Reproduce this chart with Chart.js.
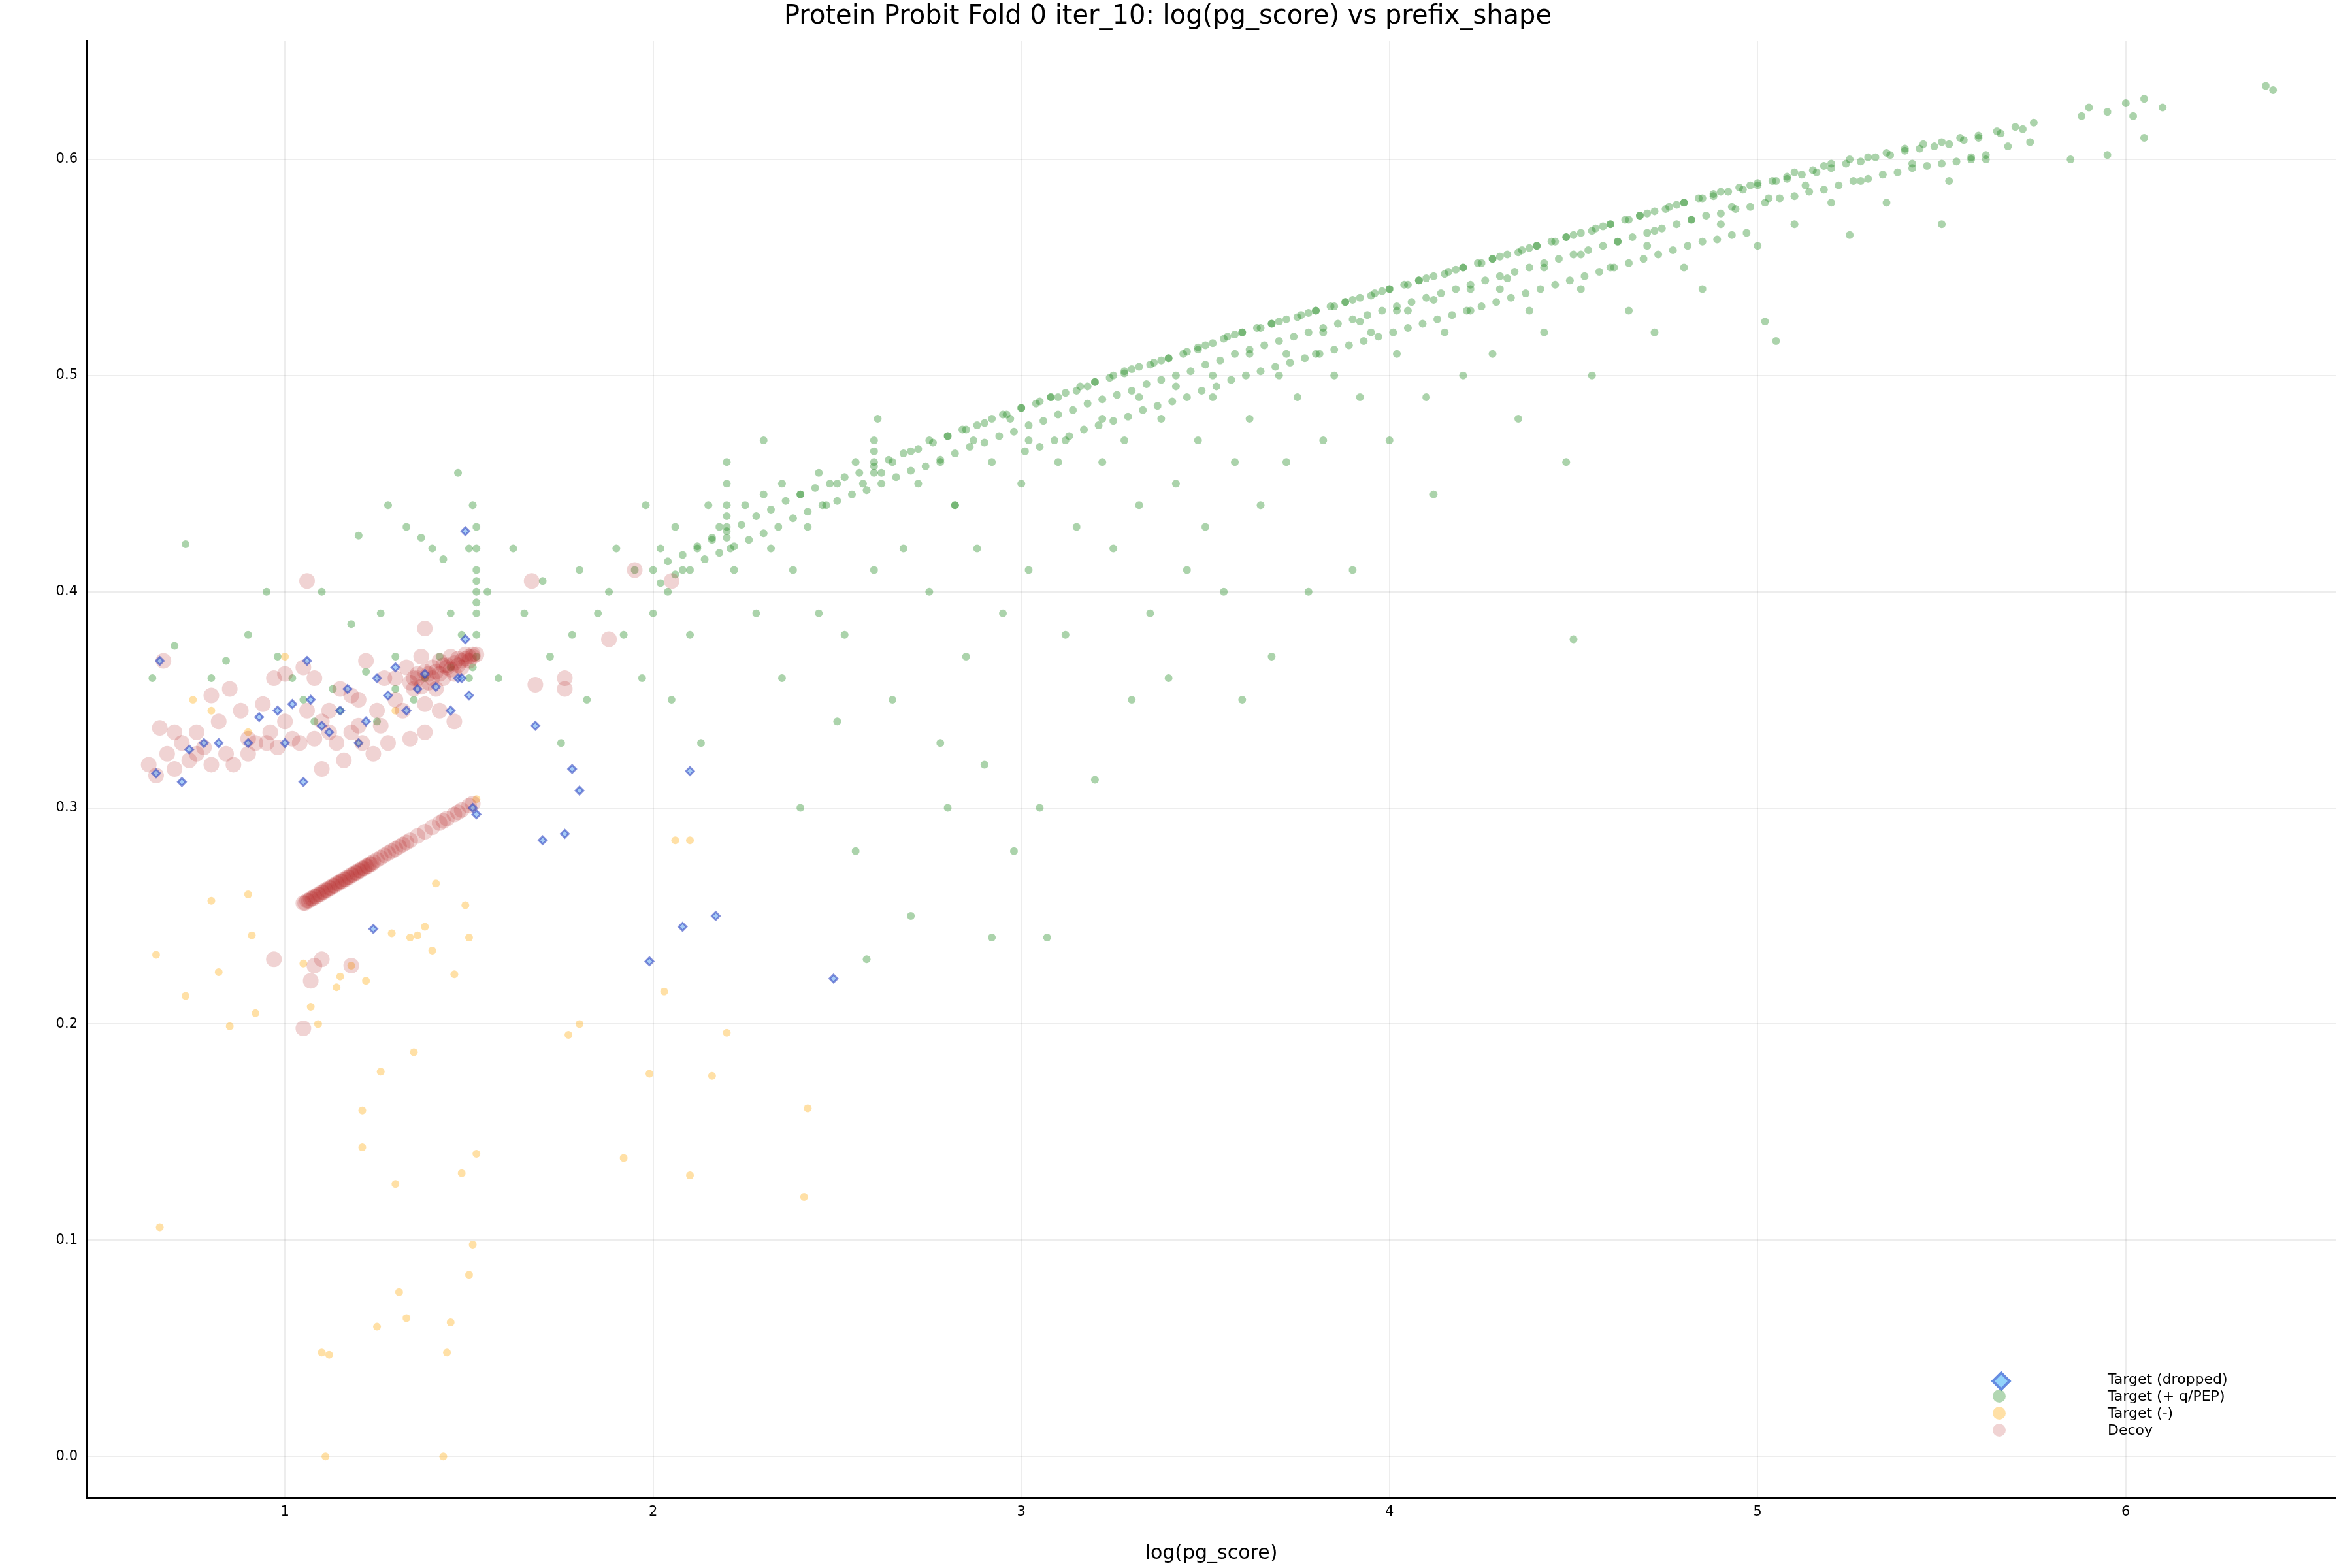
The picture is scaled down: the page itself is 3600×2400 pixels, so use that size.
<!DOCTYPE html>
<html><head><meta charset="utf-8">
<script src="https://cdn.jsdelivr.net/npm/chart.js@4.4.1/dist/chart.umd.min.js"></script>
<style>
html,body{margin:0;padding:0;background:#fff;}
#wrap{position:relative;width:3600px;height:2400px;}
#legend{position:absolute;left:3050px;top:2098px;font-family:"DejaVu Sans",sans-serif;font-size:22px;color:#000;}
.row{position:relative;height:26px;line-height:26px;}
.row span.m{position:absolute;left:0;top:3px;width:20px;height:20px;border-radius:50%;}
.row span.t{position:absolute;left:176px;top:0;white-space:nowrap;}
</style></head><body>
<div id="wrap"><canvas id="c" width="3600" height="2400"></canvas>
<div id="legend">
<div class="row"><span class="m" style="left:2px;top:5px;width:14px;height:14px;border-radius:0;transform:rotate(45deg);background:rgba(135,206,250,0.9);border:4px solid rgba(65,80,205,0.55);"></span><span class="t">Target (dropped)</span></div>
<div class="row"><span class="m" style="background:rgba(34,139,34,0.35)"></span><span class="t">Target (+ q/PEP)</span></div>
<div class="row"><span class="m" style="background:rgba(255,165,0,0.35)"></span><span class="t">Target (-)</span></div>
<div class="row"><span class="m" style="background:rgba(178,34,34,0.2)"></span><span class="t">Decoy</span></div>
</div></div>
<script>
const xTicks=[1,2,3,4,5,6];
const yTicks=[0,0.1,0.2,0.3,0.4,0.5,0.6];
const seriesNames=["Target (dropped)","Target (+ q/PEP)","Target (-)","Decoy"];

const droppedPts=[[0.65,0.316],[0.66,0.368],[0.72,0.312],[0.74,0.327],[0.78,0.33],[0.82,0.33],[0.9,0.33],[0.93,0.342],[0.98,0.345],[1.0,0.33],[1.02,0.348],[1.05,0.312],[1.06,0.368],[1.07,0.35],[1.1,0.338],[1.12,0.335],[1.15,0.345],[1.17,0.355],[1.2,0.33],[1.22,0.34],[1.24,0.244],[1.25,0.36],[1.28,0.352],[1.3,0.365],[1.33,0.345],[1.36,0.355],[1.38,0.362],[1.41,0.356],[1.45,0.345],[1.47,0.36],[1.48,0.36],[1.49,0.428],[1.49,0.378],[1.5,0.352],[1.51,0.3],[1.52,0.297],[1.68,0.338],[1.7,0.285],[1.76,0.288],[1.78,0.318],[1.8,0.308],[1.99,0.229],[2.08,0.245],[2.1,0.317],[2.17,0.25],[2.49,0.221]];

const greenPts=[
[0.64,0.36],[0.7,0.375],[0.73,0.422],[0.8,0.36],[0.84,0.368],[0.9,0.38],[0.95,0.4],[0.98,0.37],[1.02,0.36],[1.05,0.35],[1.1,0.4],[1.13,0.355],[1.18,0.385],[1.2,0.426],[1.22,0.363],[1.26,0.39],[1.28,0.44],[1.3,0.37],[1.33,0.43],[1.37,0.425],[1.4,0.42],[1.43,0.415],[1.45,0.39],[1.47,0.455],[1.48,0.38],[1.5,0.42],[1.51,0.44],[1.52,0.43],[1.52,0.42],[1.52,0.41],[1.52,0.405],[1.52,0.4],[1.52,0.395],[1.52,0.39],[1.52,0.38],[1.52,0.37],[1.51,0.365],[1.5,0.36],[1.45,0.365],[1.42,0.37],[1.38,0.36],[1.35,0.35],[1.3,0.355],[1.25,0.34],[1.15,0.345],[1.08,0.34],[1.55,0.4],[1.58,0.36],[1.62,0.42],[1.65,0.39],[1.7,0.405],[1.72,0.37],[1.75,0.33],[1.78,0.38],[1.8,0.41],[1.82,0.35],[1.85,0.39],[1.88,0.4],[1.9,0.42],[1.92,0.38],[1.95,0.41],[1.97,0.36],[1.98,0.44],[2.0,0.39],[2.02,0.42],[2.04,0.4],[2.05,0.35],[2.06,0.43],[2.08,0.41],[2.1,0.38],[2.12,0.42],[2.13,0.33],[2.15,0.44],[2.16,0.425],[2.18,0.43],[2.2,0.425],[2.2,0.43],[2.2,0.435],[2.2,0.44],[2.2,0.45],[2.2,0.46],[2.21,0.42],[2.22,0.41],[2.25,0.44],[2.28,0.39],[2.3,0.445],[2.32,0.42],[2.35,0.45],[2.38,0.41],[2.4,0.445],[2.42,0.43],[2.45,0.455],[2.47,0.44],[2.5,0.45],[2.52,0.38],[2.55,0.46],[2.57,0.45],[2.6,0.455],[2.6,0.46],[2.6,0.465],[2.6,0.47],[2.61,0.48],[2.62,0.455],[2.65,0.46],[2.68,0.42],[2.7,0.465],[2.72,0.45],[2.75,0.47],[2.78,0.46],[2.8,0.472],[2.82,0.44],[2.85,0.475],[2.87,0.47],[2.9,0.478],[2.92,0.46],[2.95,0.482],[2.97,0.48],[3.0,0.485],[3.02,0.47],[3.05,0.488],[3.08,0.49],[3.1,0.49],[3.12,0.47],[3.15,0.493],[3.18,0.495],[3.2,0.497],[3.22,0.48],[3.25,0.5],[3.28,0.502],[3.3,0.503],[3.32,0.49],[3.35,0.505],[3.38,0.507],[3.4,0.508],[3.42,0.495],[3.45,0.511],[3.48,0.512],[3.5,0.514],[3.52,0.5],[3.55,0.517],[3.58,0.519],[3.6,0.52],[3.62,0.51],[3.65,0.522],[3.68,0.524],[3.7,0.525],[3.72,0.51],[3.75,0.527],[3.78,0.529],[3.8,0.53],[3.82,0.52],[3.85,0.532],[3.88,0.534],[3.9,0.535],[3.92,0.525],[3.95,0.537],[3.98,0.539],[4.0,0.54],[4.02,0.53],[4.05,0.542],[4.08,0.544],[4.1,0.545],[4.12,0.535],[4.15,0.547],[4.18,0.549],[4.2,0.55],[4.22,0.54],[4.25,0.552],[4.28,0.554],[4.3,0.555],[4.32,0.545],[4.35,0.557],[4.38,0.559],[4.4,0.56],[4.42,0.55],[4.45,0.562],[4.48,0.564],[4.5,0.565],[4.52,0.556],[4.55,0.567],[4.58,0.569],[4.6,0.57],[4.62,0.562],[4.65,0.572],[4.68,0.574],[4.7,0.575],[4.72,0.567],[4.75,0.577],[4.78,0.579],[4.8,0.58],[4.82,0.572],[4.85,0.582],[4.88,0.584],[4.9,0.585],[4.93,0.578],[4.95,0.587],[4.98,0.588],[5.0,0.589],[5.03,0.582],[5.05,0.59],[5.08,0.592],[5.1,0.594],[5.13,0.588],[5.15,0.595],[5.18,0.597],[5.2,0.598],[5.25,0.6],[5.28,0.59],[5.3,0.601],[5.35,0.603],[5.4,0.605],[5.42,0.598],[5.45,0.607],[5.5,0.608],[5.55,0.61],[5.58,0.6],[5.6,0.611],[5.65,0.613],[5.7,0.615],[5.75,0.617],[5.88,0.62],[5.9,0.624],[5.95,0.622],[6.0,0.626],[6.02,0.62],[6.05,0.628],[6.1,0.624],[6.38,0.634],[6.4,0.632],
[2.3,0.47],[2.35,0.36],[2.4,0.3],[2.45,0.39],[2.5,0.34],[2.55,0.28],[2.58,0.23],[2.6,0.41],[2.65,0.35],[2.7,0.25],[2.75,0.4],[2.78,0.33],[2.8,0.3],[2.82,0.44],[2.85,0.37],[2.88,0.42],[2.9,0.32],[2.92,0.24],[2.95,0.39],[2.98,0.28],[3.0,0.45],[3.02,0.41],[3.05,0.3],[3.07,0.24],[3.1,0.46],[3.12,0.38],[3.15,0.43],[3.2,0.313],[3.22,0.46],[3.25,0.42],[3.28,0.47],[3.3,0.35],[3.32,0.44],[3.35,0.39],[3.38,0.48],[3.4,0.36],[3.42,0.45],[3.45,0.41],[3.48,0.47],[3.5,0.43],[3.52,0.49],[3.55,0.4],[3.58,0.46],[3.6,0.35],[3.62,0.48],[3.65,0.44],[3.68,0.37],[3.7,0.5],[3.72,0.46],[3.75,0.49],[3.78,0.4],[3.8,0.51],[3.82,0.47],[3.85,0.5],[3.9,0.41],[3.92,0.49],[3.95,0.52],[4.0,0.47],[4.02,0.51],[4.05,0.53],[4.1,0.49],[4.12,0.445],[4.15,0.52],[4.2,0.5],[4.22,0.53],[4.28,0.51],[4.3,0.54],[4.35,0.48],[4.38,0.53],[4.42,0.52],[4.48,0.46],[4.5,0.378],[4.52,0.54],[4.55,0.5],[4.6,0.55],[4.65,0.53],[4.7,0.56],[4.72,0.52],[4.8,0.55],[4.85,0.54],[4.9,0.57],[5.0,0.56],[5.02,0.525],[5.05,0.516],[5.1,0.57],[5.2,0.58],[5.25,0.565],[5.35,0.58],[5.5,0.57],[5.52,0.59],[5.62,0.6],[5.85,0.6],[5.95,0.602],[6.05,0.61]
];

const greenBandPts=[
[2.00,0.410],[2.02,0.404],[2.04,0.414],[2.06,0.408],[2.08,0.417],[2.10,0.410],[2.12,0.421],[2.14,0.415],[2.16,0.424],[2.18,0.418],[2.20,0.428],[2.22,0.421],[2.24,0.431],[2.26,0.424],[2.28,0.435],[2.30,0.427],[2.32,0.438],[2.34,0.430],[2.36,0.442],[2.38,0.434],[2.40,0.445],[2.42,0.437],[2.44,0.448],[2.46,0.440],[2.48,0.450],[2.50,0.442],[2.52,0.453],[2.54,0.445],[2.56,0.455],[2.58,0.447],[2.60,0.458],[2.62,0.450],[2.64,0.461],[2.66,0.453],[2.68,0.464],[2.70,0.456],[2.72,0.466],[2.74,0.458],[2.76,0.469],[2.78,0.461],[2.80,0.472],[2.82,0.464],[2.84,0.475],[2.86,0.467],[2.88,0.477],[2.90,0.469],[2.92,0.480],[2.94,0.472],[2.96,0.482],[2.98,0.474],
[3.00,0.485],[3.02,0.477],[3.01,0.465],[3.04,0.487],[3.06,0.479],[3.05,0.467],[3.08,0.490],[3.10,0.482],[3.09,0.470],[3.12,0.492],[3.14,0.484],[3.13,0.472],[3.16,0.495],[3.18,0.487],[3.17,0.475],[3.20,0.497],[3.22,0.489],[3.21,0.477],[3.24,0.499],[3.26,0.491],[3.25,0.479],[3.28,0.501],[3.30,0.493],[3.29,0.481],[3.32,0.504],[3.34,0.496],[3.33,0.484],[3.36,0.506],[3.38,0.498],[3.37,0.486],[3.40,0.508],[3.42,0.500],[3.41,0.488],[3.44,0.510],[3.46,0.502],[3.45,0.490],[3.48,0.513],[3.50,0.505],[3.49,0.493],[3.52,0.515],[3.54,0.507],[3.53,0.495],[3.56,0.518],[3.58,0.510],[3.57,0.498],[3.60,0.520],[3.62,0.512],[3.61,0.500],[3.64,0.522],[3.66,0.514],[3.65,0.502],[3.68,0.524],[3.70,0.516],[3.69,0.504],[3.72,0.526],[3.74,0.518],[3.73,0.506],[3.76,0.528],[3.78,0.520],[3.77,0.508],[3.80,0.530],[3.82,0.522],[3.81,0.510],[3.84,0.532],[3.86,0.524],[3.85,0.512],[3.88,0.534],[3.90,0.526],[3.89,0.514],[3.92,0.536],[3.94,0.528],[3.93,0.516],[3.96,0.538],[3.98,0.530],[3.97,0.518],
[4.00,0.540],[4.02,0.532],[4.01,0.520],[4.04,0.542],[4.06,0.534],[4.05,0.522],[4.08,0.544],[4.10,0.536],[4.09,0.524],[4.12,0.546],[4.14,0.538],[4.13,0.526],[4.16,0.548],[4.18,0.540],[4.17,0.528],[4.20,0.550],[4.22,0.542],[4.21,0.530],[4.24,0.552],[4.26,0.544],[4.25,0.532],[4.28,0.554],[4.30,0.546],[4.29,0.534],[4.32,0.556],[4.34,0.548],[4.33,0.536],[4.36,0.558],[4.38,0.550],[4.37,0.538],[4.40,0.560],[4.42,0.552],[4.41,0.540],[4.44,0.562],[4.46,0.554],[4.45,0.542],[4.48,0.564],[4.50,0.556],[4.49,0.544],[4.52,0.566],[4.54,0.558],[4.53,0.546],[4.56,0.568],[4.58,0.560],[4.57,0.548],[4.60,0.570],[4.62,0.562],[4.61,0.550],[4.64,0.572],[4.66,0.564],[4.65,0.552],[4.68,0.574],[4.70,0.566],[4.69,0.554],[4.72,0.576],[4.74,0.568],[4.73,0.556],[4.76,0.578],[4.78,0.570],[4.77,0.558],[4.80,0.580],[4.82,0.572],[4.81,0.560],[4.84,0.582],[4.86,0.574],[4.85,0.562],[4.88,0.583],[4.90,0.575],[4.89,0.563],[4.92,0.585],[4.94,0.577],[4.93,0.565],[4.96,0.586],[4.98,0.578],[4.97,0.566],
[5.00,0.588],[5.02,0.580],[5.04,0.590],[5.06,0.582],[5.08,0.591],[5.10,0.583],[5.12,0.593],[5.14,0.585],[5.16,0.594],[5.18,0.586],[5.20,0.596],[5.22,0.588],[5.24,0.598],[5.26,0.590],[5.28,0.599],[5.30,0.591],[5.32,0.601],[5.34,0.593],[5.36,0.602],[5.38,0.594],[5.40,0.604],[5.42,0.596],[5.44,0.605],[5.46,0.597],[5.48,0.606],[5.50,0.598],[5.52,0.607],[5.54,0.599],[5.56,0.609],[5.58,0.601],[5.60,0.610],[5.62,0.602],[5.66,0.612],[5.68,0.606],[5.72,0.614],[5.74,0.608]
];

const orangePts=[[0.65,0.232],[0.66,0.106],[0.73,0.213],[0.75,0.35],[0.8,0.257],[0.8,0.345],[0.82,0.224],[0.85,0.199],[0.9,0.26],[0.9,0.335],[0.91,0.241],[0.92,0.205],[1.0,0.37],[1.05,0.228],[1.07,0.208],[1.09,0.2],[1.1,0.048],[1.11,0.0],[1.12,0.047],[1.14,0.217],[1.15,0.222],[1.18,0.227],[1.2,0.33],[1.21,0.16],[1.21,0.143],[1.22,0.22],[1.25,0.06],[1.26,0.178],[1.29,0.242],[1.3,0.126],[1.3,0.345],[1.31,0.076],[1.33,0.064],[1.34,0.24],[1.35,0.187],[1.36,0.241],[1.38,0.245],[1.4,0.234],[1.41,0.265],[1.43,0.0],[1.44,0.048],[1.45,0.062],[1.46,0.223],[1.48,0.131],[1.49,0.255],[1.5,0.24],[1.51,0.098],[1.5,0.084],[1.52,0.14],[1.52,0.304],[1.77,0.195],[1.8,0.2],[1.92,0.138],[1.99,0.177],[2.03,0.215],[2.06,0.285],[2.1,0.285],[2.1,0.13],[2.16,0.176],[2.2,0.196],[2.41,0.12],[2.42,0.161]];

const decoyPts=[
[1.05,0.256],[1.055,0.256],[1.06,0.257],[1.065,0.257],[1.07,0.258],[1.075,0.258],[1.08,0.259],[1.085,0.259],[1.09,0.26],[1.095,0.26],[1.1,0.261],[1.105,0.261],[1.11,0.262],[1.115,0.262],[1.12,0.263],[1.125,0.263],[1.13,0.264],[1.135,0.264],[1.14,0.265],[1.145,0.265],[1.15,0.266],[1.155,0.266],[1.16,0.267],[1.165,0.267],[1.17,0.268],[1.175,0.268],[1.18,0.269],[1.185,0.269],[1.19,0.27],[1.195,0.27],[1.2,0.271],[1.205,0.271],[1.21,0.272],[1.215,0.272],[1.22,0.273],[1.225,0.273],[1.23,0.274],[1.235,0.274],[1.24,0.275],[1.25,0.276],[1.26,0.277],[1.27,0.278],[1.28,0.279],[1.29,0.28],[1.3,0.281],[1.31,0.282],[1.32,0.283],[1.33,0.284],[1.34,0.285],[1.36,0.287],[1.38,0.289],[1.4,0.291],[1.42,0.293],[1.43,0.294],[1.44,0.295],[1.46,0.297],[1.47,0.298],[1.48,0.299],[1.5,0.301],[1.51,0.302],
[0.63,0.32],[0.65,0.315],[0.66,0.337],[0.68,0.325],[0.7,0.318],[0.72,0.33],[0.74,0.322],[0.76,0.335],[0.78,0.328],[0.8,0.32],[0.8,0.352],[0.82,0.34],[0.84,0.325],[0.86,0.32],[0.88,0.345],[0.9,0.332],[0.92,0.33],[0.94,0.348],[0.96,0.335],[0.98,0.328],[1.0,0.362],[1.0,0.34],[1.02,0.332],[1.04,0.33],[1.06,0.345],[1.08,0.332],[1.08,0.36],[1.1,0.318],[1.1,0.34],[1.12,0.335],[1.14,0.33],[1.15,0.355],[1.16,0.322],[1.18,0.335],[1.2,0.35],[1.21,0.33],[1.22,0.368],[1.24,0.325],[1.25,0.345],[1.26,0.338],[1.27,0.36],[1.28,0.33],[1.3,0.35],[1.3,0.36],[1.32,0.345],[1.33,0.365],[1.34,0.332],[1.35,0.355],[1.36,0.36],[1.37,0.37],[1.38,0.348],[1.39,0.362],[1.4,0.365],[1.41,0.355],[1.42,0.368],[1.43,0.36],[1.44,0.365],[1.45,0.37],[1.46,0.362],[1.47,0.366],[1.48,0.368],[1.49,0.369],[1.5,0.37],[1.51,0.371],[1.52,0.371],[1.46,0.34],[1.42,0.345],[1.38,0.335],[1.05,0.365],[0.97,0.36],[0.85,0.355],[0.67,0.368],
[1.34,0.358],[1.36,0.362],[1.38,0.363],[1.4,0.36],[1.42,0.362],[1.44,0.366],[1.46,0.367],[1.48,0.365],[1.5,0.368],[1.51,0.37],[1.49,0.371],[1.47,0.369],[1.45,0.364],[1.43,0.366],[1.41,0.363],[1.39,0.358],[1.37,0.356],[1.35,0.36],[1.2,0.338],[1.18,0.352],[1.12,0.345],[0.95,0.33],[0.9,0.325],[0.76,0.325],[0.7,0.335],
[1.06,0.405],[0.97,0.23],[1.05,0.198],[1.07,0.22],[1.08,0.227],[1.1,0.23],[1.18,0.227],[1.67,0.405],[1.68,0.357],[1.76,0.36],[1.76,0.355],[1.88,0.378],[1.95,0.41],[2.05,0.405],[1.38,0.383]];

const toXY=a=>a.map(p=>({x:p[0],y:p[1]}));
const fontFam='"DejaVu Sans", sans-serif';
const greenStyle={pointRadius:6,pointBorderWidth:0,backgroundColor:'rgba(34,139,34,0.38)',borderColor:'rgba(0,0,0,0)',order:3};
new Chart(document.getElementById('c'),{
  type:'scatter',
  data:{datasets:[
    {label:seriesNames[0],data:toXY(droppedPts),pointStyle:'rectRot',pointRadius:6,pointBorderWidth:3,
     backgroundColor:'rgba(110,170,240,0.6)',borderColor:'rgba(40,60,190,0.55)',order:0},
    Object.assign({label:seriesNames[1],data:toXY(greenPts)},greenStyle),
    Object.assign({label:seriesNames[1]+' band',data:toXY(greenBandPts)},greenStyle),
    {label:seriesNames[2],data:toXY(orangePts),pointRadius:6,pointBorderWidth:0,backgroundColor:'rgba(255,165,0,0.35)',borderColor:'rgba(0,0,0,0)',order:2},
    {label:seriesNames[3],data:toXY(decoyPts),pointRadius:12,pointBorderWidth:0,backgroundColor:'rgba(178,34,34,0.2)',borderColor:'rgba(0,0,0,0)',order:1}
  ]},
  options:{
    responsive:false,animation:false,devicePixelRatio:1,
    layout:{padding:{left:0,right:25,top:0,bottom:0}},
    plugins:{
      legend:{display:false},tooltip:{enabled:false},
      title:{display:true,text:'Protein Probit Fold 0 iter_10: log(pg_score) vs prefix_shape',
        font:{family:fontFam,size:40,weight:'normal'},color:'#000',padding:{top:2,bottom:12}}
    },
    scales:{
      x:{type:'linear',min:0.462,max:6.57,
        afterBuildTicks:s=>{s.ticks=xTicks.map(v=>({value:v}));},
        ticks:{font:{family:fontFam,size:21},color:'#000',padding:10},
        grid:{color:'rgba(0,0,0,0.07)',lineWidth:2,drawTicks:false},
        border:{color:'#000',width:3},
        title:{display:true,text:'log(pg_score)',font:{family:fontFam,size:30},color:'#000',padding:{top:22}},
        afterFit:s=>{s.height=108;}
      },
      y:{type:'linear',min:-0.019,max:0.655,
        afterBuildTicks:s=>{s.ticks=yTicks.map(v=>({value:v}));},
        ticks:{font:{family:fontFam,size:21},color:'#000',padding:14,callback:v=>v.toFixed(1)},
        grid:{color:'rgba(0,0,0,0.07)',lineWidth:2,drawTicks:false},
        border:{color:'#000',width:3},
        afterFit:s=>{s.width=133;}
      }
    }
  }
});
</script></body></html>
